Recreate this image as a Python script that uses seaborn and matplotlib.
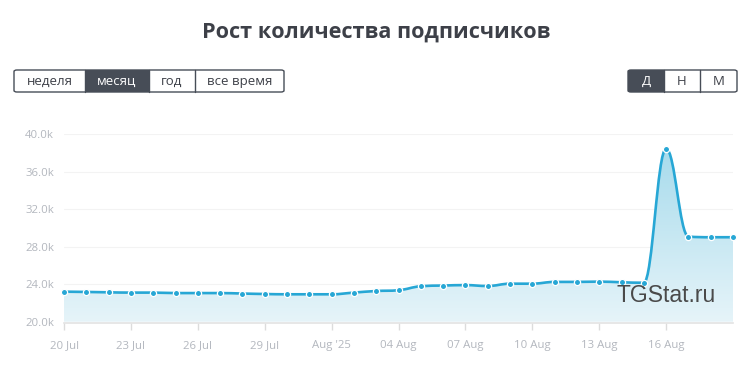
import numpy as np
import pandas as pd
import matplotlib
matplotlib.use("Agg")
import matplotlib.pyplot as plt
import seaborn as sns
from matplotlib.path import Path
from matplotlib.patches import PathPatch, Rectangle, FancyBboxPatch

# Subscriber counts (thousands), one per day from 20 Jul 2025
subscribers = [23.20, 23.17, 23.13, 23.10, 23.10, 23.05, 23.05, 23.05, 23.00, 22.95,
               22.92, 22.92, 22.92, 23.10, 23.27, 23.35, 23.78, 23.85, 23.90, 23.80,
               24.05, 24.05, 24.24, 24.24, 24.27, 24.20, 24.15, 38.43, 29.07, 29.00,
               29.00]
dates = pd.date_range("2025-07-20", periods=len(subscribers), freq="D")
tick_labels = ["20 Jul", "23 Jul", "26 Jul", "29 Jul", "Aug '25",
               "04 Aug", "07 Aug", "10 Aug", "13 Aug", "16 Aug"]
y_ticks = [20, 24, 28, 32, 36, 40]
period_buttons = ["неделя", "месяц", "год", "все время"]
scale_buttons = ["Д", "Н", "М"]

df = pd.DataFrame({"day": np.arange(len(subscribers)), "subs": subscribers})

LINE = "#27a7d5"
DARK = "#474d57"
TEXT = "#3d4048"
TICK = "#b3b7be"

sns.set_theme(style="white")
plt.rcParams["font.family"] = ["Open Sans", "DejaVu Sans"]

W, H = 751, 371
fig = plt.figure(figsize=(W / 100, H / 100), dpi=100)


def fx(px):
    return px / W


def fy(py):
    return 1 - py / H


ax = fig.add_axes([fx(64), fy(321.7), fx(733) - fx(64), fy(134) - fy(321.7)])
ax.set_xlim(0, len(subscribers) - 1)
ax.set_ylim(20, 40)


# Highcharts-style spline through the daily points
def spline_path(x, y):
    n = len(x)
    lc = list(zip(x, y))
    rc = list(zip(x, y))
    for i in range(1, n - 1):
        d = x[i] - x[i - 1]
        lx, rx = x[i] - 0.4 * d, x[i] + 0.4 * d
        ly = y[i] + (y[i - 1] - y[i + 1]) / 5
        ry = y[i] + (y[i + 1] - y[i - 1]) / 5
        if ly > y[i - 1] and ly > y[i]:
            ly = max(y[i - 1], y[i]); ry = 2 * y[i] - ly
        elif ly < y[i - 1] and ly < y[i]:
            ly = min(y[i - 1], y[i]); ry = 2 * y[i] - ly
        if ry > y[i + 1] and ry > y[i]:
            ry = max(y[i + 1], y[i]); ly = 2 * y[i] - ry
        elif ry < y[i + 1] and ry < y[i]:
            ry = min(y[i + 1], y[i]); ly = 2 * y[i] - ry
        lc[i] = (lx, ly)
        rc[i] = (rx, ry)
    verts = [(x[0], y[0])]
    codes = [Path.MOVETO]
    for i in range(1, n):
        verts += [rc[i - 1], lc[i], (x[i], y[i])]
        codes += [Path.CURVE4] * 3
    return verts, codes


xs = df["day"].to_numpy(dtype=float)
ys = df["subs"].to_numpy(dtype=float)
verts, codes = spline_path(xs, ys)

# gradient area under the curve
area_verts = verts + [(xs[-1], 20), (xs[0], 20), (xs[0], ys[0])]
area_codes = codes + [Path.LINETO, Path.LINETO, Path.CLOSEPOLY]
area = PathPatch(Path(area_verts, area_codes), facecolor="none", edgecolor="none")
ax.add_patch(area)
grad = np.linspace(0, 1, 256).reshape(-1, 1)
cmap = matplotlib.colors.LinearSegmentedColormap.from_list("g", ["#e6f4f9", "#a2d9eb"])
img = ax.imshow(grad, cmap=cmap, extent=[xs[0], xs[-1], 20, 40], origin="lower",
                aspect="auto", zorder=1)
img.set_clip_path(area)

for yt in y_ticks[1:]:
    ax.axhline(yt, color="#f3f3f3", lw=0.8, zorder=0)

ax.add_patch(PathPatch(Path(verts, codes), facecolor="none", edgecolor=LINE,
                       lw=1.9, zorder=3, capstyle="round", joinstyle="round"))

sns.scatterplot(data=df, x="day", y="subs", ax=ax, s=20, color=LINE,
                edgecolor="white", linewidth=0.9, zorder=4, clip_on=False)

ax.set_xlim(0, len(subscribers) - 1)
ax.set_ylim(20, 40)
ax.set_xlabel("")
ax.set_ylabel("")
for side in ["top", "right", "left"]:
    ax.spines[side].set_visible(False)
ax.spines["bottom"].set_color("#e3e3e3")
ax.spines["bottom"].set_linewidth(1.2)
ax.spines["bottom"].set_position(("outward", 1))

ax.set_xticks(np.arange(0, len(subscribers), 3)[:len(tick_labels)])
ax.set_xticklabels(tick_labels)
ax.set_yticks(y_ticks)
ax.set_yticklabels([f"{v:.1f}k" for v in y_ticks])
ax.tick_params(axis="x", length=5, width=1, color="#dcdcdc", colors=TICK,
               labelsize=8.2, pad=7, bottom=True)
ax.tick_params(axis="y", length=0, colors=TICK, labelsize=8.2, pad=7)

ax.text(0.90, 0.142, "TGStat.ru", transform=ax.transAxes, ha="center", va="center",
        fontsize=16.5, color="#4a4a4a", family=["Liberation Sans", "DejaVu Sans"], zorder=5)

fig.text(fx(376), fy(32), "Рост количества подписчиков", ha="center", va="center",
         fontsize=15.6, fontweight="bold", color=TEXT)


def button_group(x0, x1, edges, labels, active):
    y0, y1 = 70, 92
    for i, lab in enumerate(labels):
        a, b = edges[i], edges[i + 1]
        if i == active:
            fig.patches.append(Rectangle((fx(a), fy(y1)), fx(b) - fx(a), fy(y0) - fy(y1),
                                         transform=fig.transFigure, facecolor=DARK,
                                         edgecolor="none", zorder=1))
        fig.text(fx((a + b) / 2), fy(81.5), lab, ha="center", va="center", fontsize=9.5,
                 color="white" if i == active else TEXT, zorder=3)
        if 0 < i:
            fig.lines.append(plt.Line2D([fx(a), fx(a)], [fy(y0), fy(y1)],
                                        transform=fig.transFigure, color=DARK, lw=1, zorder=2))
    fig.patches.append(FancyBboxPatch((fx(x0), fy(y1)), fx(x1) - fx(x0), fy(y0) - fy(y1),
                                      boxstyle="round,pad=0,rounding_size=0.004",
                                      transform=fig.transFigure, facecolor="none",
                                      edgecolor=DARK, lw=1, zorder=2))


button_group(14, 284, [14, 85, 149, 195, 284], period_buttons, 1)
button_group(628, 737, [628, 664, 700, 737], scale_buttons, 0)

fig.savefig("out.png", dpi=100)
